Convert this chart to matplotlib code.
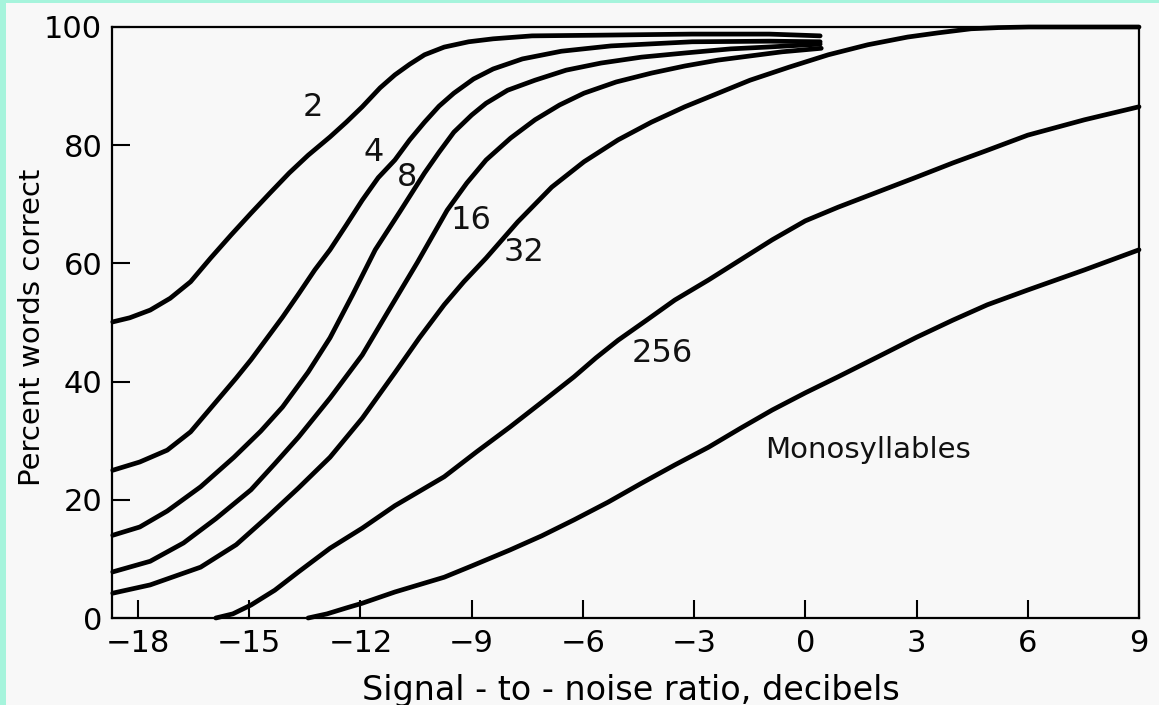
import matplotlib
matplotlib.use("Agg")
import matplotlib.pyplot as plt
from matplotlib.patches import Rectangle

# values: signal-to-noise ratio (dB) -> percent words correct
snr_2 = [-18.68, -18.22, -17.67, -17.13, -16.58, -16.04, -15.49, -14.95, -14.44, -13.92, -13.41, -12.82,
         -12.38, -11.95, -11.47, -11.07, -10.67, -10.27, -9.74, -9.08, -8.42, -7.37, -5.78, -3.05, -0.97, 0.40]
pct_2 = [50.1, 50.8, 52.1, 54.1, 56.9, 60.9, 64.8, 68.5, 71.9, 75.3, 78.3, 81.4,
         83.9, 86.5, 89.7, 91.9, 93.7, 95.3, 96.6, 97.5, 98.0, 98.5, 98.6, 98.8, 98.8, 98.5]

snr_4 = [-18.68, -17.95, -17.21, -16.58, -15.85, -15.35, -14.95, -14.56, -14.10, -13.67, -13.23, -12.82, -12.38,
         -11.95, -11.52, -11.07, -10.67, -10.27, -9.88, -9.48, -8.95, -8.42, -7.63, -6.58, -5.24, -3.05, -0.97, 0.40]
pct_4 = [25.0, 26.4, 28.4, 31.5, 36.9, 40.6, 43.7, 47.0, 50.9, 54.8, 58.9, 62.3, 66.5,
         70.7, 74.5, 77.5, 80.9, 83.9, 86.6, 88.8, 91.2, 92.9, 94.6, 95.9, 96.8, 97.5, 97.6, 97.5]

snr_8 = [-18.68, -17.95, -17.21, -16.31, -15.41, -14.69, -14.10, -13.41, -12.82, -12.21, -11.60, -10.94, -10.27,
         -9.88, -9.48, -9.00, -8.61, -8.03, -7.29, -6.45, -5.51, -4.42, -3.25, -2.01, -1.04, 0.40]
pct_8 = [14.0, 15.4, 18.1, 22.2, 27.2, 31.6, 35.7, 41.6, 47.4, 54.7, 62.3, 68.7, 75.3,
         78.8, 82.2, 85.1, 87.1, 89.3, 91.0, 92.7, 93.9, 94.9, 95.6, 96.3, 96.6, 97.1]

snr_16 = [-18.68, -17.67, -16.77, -15.90, -14.95, -14.31, -13.67, -12.82, -11.95, -11.26, -10.46, -9.66, -9.13,
          -8.61, -7.95, -7.29, -6.63, -5.97, -5.10, -4.15, -3.25, -2.35, -1.49, -0.63, 0.43]
pct_16 = [7.8, 9.6, 12.7, 16.8, 21.7, 26.1, 30.6, 37.2, 44.5, 51.8, 60.2, 69.0, 73.6,
          77.5, 81.2, 84.3, 86.8, 88.8, 90.7, 92.2, 93.4, 94.4, 95.1, 95.8, 96.4]

snr_32 = [-18.68, -17.67, -16.31, -15.35, -14.51, -13.67, -12.82, -11.95, -11.07, -10.41, -9.74, -9.21, -8.61,
          -7.76, -6.84, -5.97, -5.05, -4.15, -3.25, -2.35, -1.49, -0.44, 0.62, 1.69, 2.76, 3.57, 4.47, 5.21, 6.03, 9.0]
pct_32 = [4.2, 5.6, 8.6, 12.4, 17.1, 22.0, 27.2, 33.8, 41.5, 47.4, 53.0, 56.9, 60.9,
          67.0, 72.9, 77.2, 80.9, 83.9, 86.5, 88.8, 91.0, 93.2, 95.3, 97.0, 98.3, 99.0, 99.7, 99.9, 100.0, 100.0]

snr_256 = [-15.90, -15.44, -14.95, -14.31, -13.67, -12.82, -11.95, -11.07, -9.74, -8.87, -7.97, -7.11, -6.24,
           -5.65, -5.05, -4.28, -3.52, -2.61, -1.75, -0.89, 0.0, 0.88, 1.96, 3.0, 3.98, 4.85, 6.0, 7.53, 9.0]
pct_256 = [0.0, 0.7, 2.2, 4.7, 7.8, 11.8, 15.2, 19.0, 23.9, 28.1, 32.3, 36.5, 40.8,
           44.0, 47.0, 50.4, 53.8, 57.2, 60.6, 64.0, 67.2, 69.5, 72.1, 74.6, 77.0, 79.0, 81.7, 84.3, 86.5]

snr_mono = [-13.41, -12.90, -12.38, -11.95, -11.07, -9.74, -9.0, -7.97, -7.11, -6.24, -5.32, -4.42, -3.52,
            -2.61, -1.75, -0.89, 0.0, 0.88, 1.96, 3.0, 3.98, 4.91, 6.0, 7.53, 9.0]
pct_mono = [0.0, 0.7, 1.7, 2.5, 4.4, 6.9, 8.8, 11.5, 13.9, 16.6, 19.6, 22.8, 25.9,
            28.9, 32.1, 35.2, 38.1, 40.8, 44.2, 47.5, 50.4, 53.0, 55.5, 58.9, 62.3]

curve_names = ["2", "4", "8", "16", "32", "256", "Monosyllables"]
x_ticks = [-18, -15, -12, -9, -6, -3, 0, 3, 6, 9]
y_ticks = [0, 20, 40, 60, 80, 100]

curves = [(snr_2, pct_2), (snr_4, pct_4), (snr_8, pct_8), (snr_16, pct_16),
          (snr_32, pct_32), (snr_256, pct_256), (snr_mono, pct_mono)]
# where each name is written on the chart (data coords)
label_pos = [(-13.27, 86.3), (-11.65, 78.8), (-10.73, 74.6), (-9.03, 67.3),
             (-7.58, 61.8), (-3.87, 44.8), (1.69, 28.4)]
label_size = [23, 23, 23, 23, 23, 23, 21]

plt.rcParams["font.family"] = ["DejaVu Sans"]

fig = plt.figure(figsize=(11.59, 7.05), dpi=100, facecolor="#a6f4dc")
# pale paper, cyan strip shows on the left and top
fig.patches.append(Rectangle((6 / 1159, 0), 1, 1 - 3 / 705, transform=fig.transFigure,
                             facecolor="#f8f8f8", edgecolor="none", zorder=-10))

ax = fig.add_axes([112 / 1159, 1 - 618 / 705, (1139 - 112) / 1159, (618 - 27) / 705])
ax.set_facecolor("#f8f8f8")

for (xs, ys) in curves:
    ax.plot(xs, ys, color="black", lw=3.4, solid_capstyle="round",
            solid_joinstyle="round", clip_on=False)

for name, (lx, ly), fs in zip(curve_names, label_pos, label_size):
    ax.text(lx, ly, name, fontsize=fs, ha="center", va="center", color="#111111")

ax.set_xlim(-18.7, 9)
ax.set_ylim(0, 100)
ax.set_xticks(x_ticks)
ax.set_yticks(y_ticks)
ax.tick_params(direction="in", length=13, width=1.5, labelsize=22, color="black")
ax.tick_params(axis="x", pad=8)
ax.tick_params(axis="y", pad=7)
for s in ax.spines.values():
    s.set_linewidth(1.6)

ax.set_xlabel("Signal - to - noise ratio, decibels", fontsize=24)
ax.set_ylabel("Percent words correct", fontsize=21)
ax.xaxis.set_label_coords(0.505, -0.095)
ax.yaxis.set_label_coords(-0.064, 0.492)

fig.savefig("out.png", dpi=100, facecolor=fig.get_facecolor())
